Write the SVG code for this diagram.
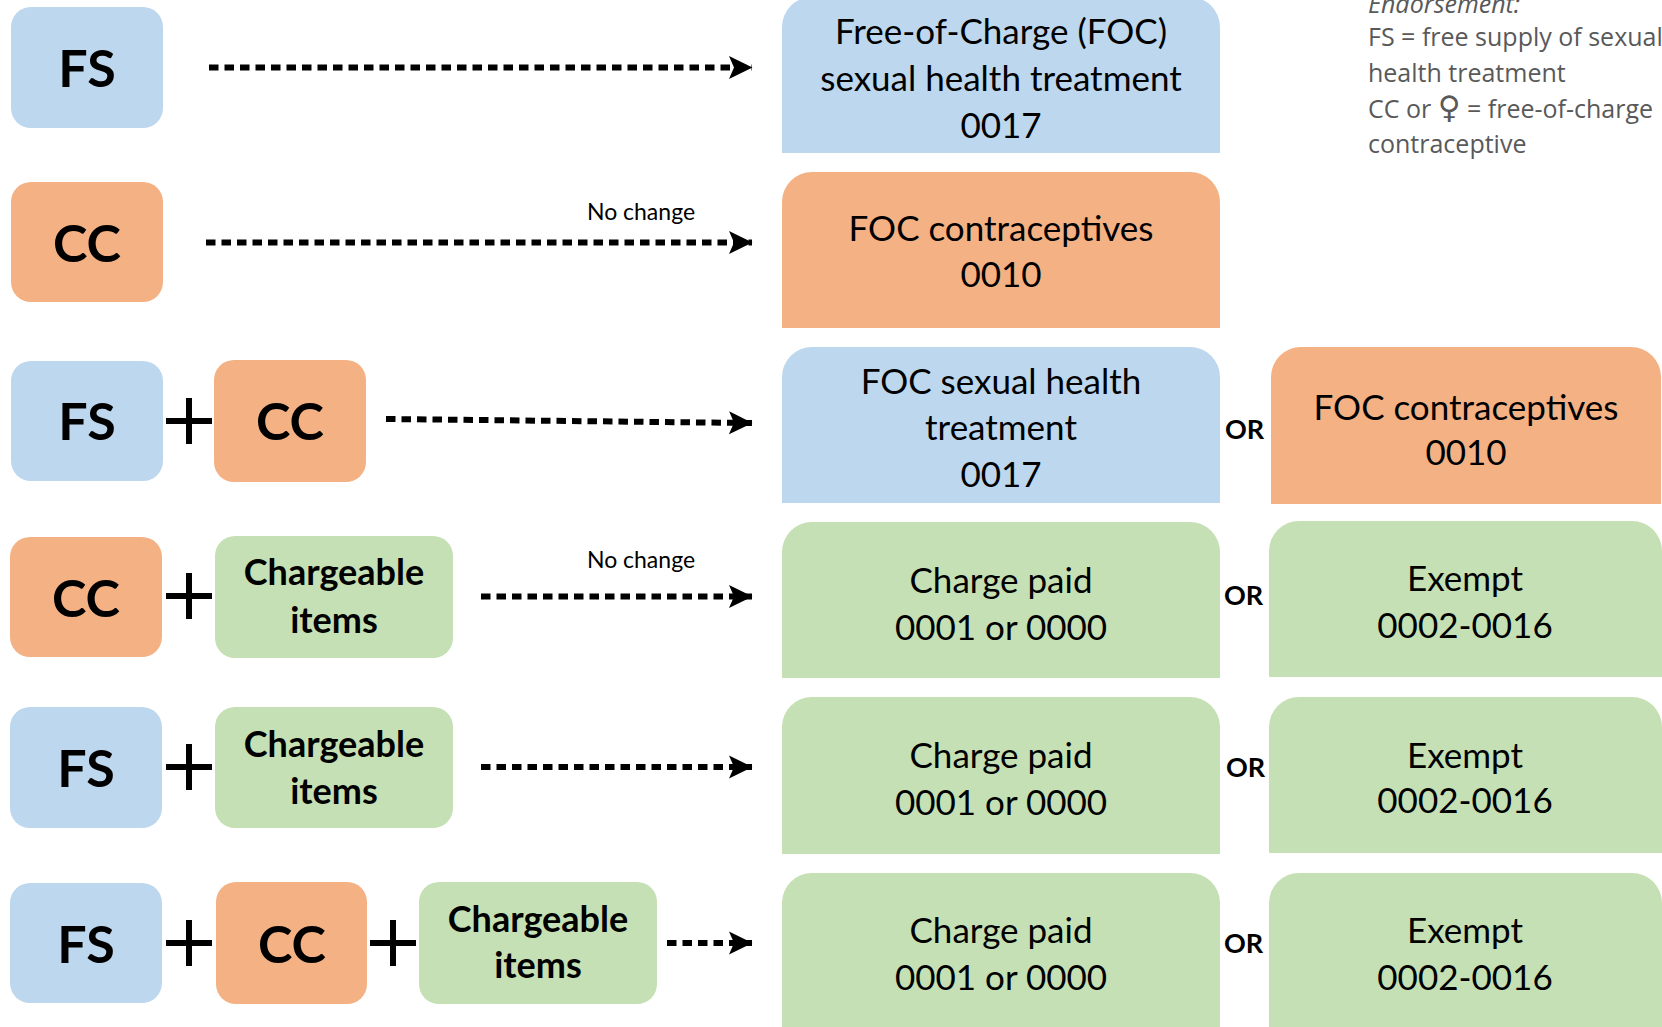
<svg xmlns="http://www.w3.org/2000/svg" width="1662" height="1027" viewBox="0 0 1662 1027">
<defs>
<style>
.blue{fill:#BDD7EE}
.orange{fill:#F4B183}
.green{fill:#C5E0B4}
.big{font-family:Lato,"Liberation Sans",sans-serif;font-weight:bold;font-size:52px;fill:#000;text-anchor:middle}
.chg{font-family:Lato,"Liberation Sans",sans-serif;font-weight:bold;font-size:36px;fill:#000;text-anchor:middle}
.res{font-family:Lato,"Liberation Sans",sans-serif;font-size:35px;fill:#000;text-anchor:middle}
.or{font-family:Lato,"Liberation Sans",sans-serif;font-weight:bold;font-size:27px;fill:#000}
.nc{font-family:Lato,"Liberation Sans",sans-serif;font-size:23px;fill:#000;text-anchor:middle}
.leg{font-family:"Open Sans","DejaVu Sans",sans-serif;font-size:25px;fill:#595959}
.plus{stroke:#000;stroke-width:6;fill:none}
.arrow{stroke:#000;stroke-width:6;stroke-dasharray:9.5 6;fill:none;marker-end:url(#ah)}
</style>
<marker id="ah" markerUnits="userSpaceOnUse" markerWidth="24" markerHeight="24" refX="23" refY="11.5" orient="auto" viewBox="0 0 24 23">
<path d="M0,0 L23.5,11.5 L0,23 L5,11.5 Z" fill="#000"/>
</marker>
</defs>

<g id="legend">
<text class="leg" x="1368" y="13" font-style="italic">Endorsement:</text>
<text class="leg" x="1368" y="46">FS = free supply of sexual</text>
<text class="leg" x="1368" y="82">health treatment</text>
<text class="leg" x="1368" y="118">CC or <tspan font-family="'DejaVu Sans',sans-serif" font-size="31">♀</tspan> = free-of-charge</text>
<text class="leg" x="1368" y="153">contraceptive</text>
</g>

<!-- Row 1 -->
<g id="fs1"><rect class="blue" x="11" y="7" width="152" height="121" rx="20"/><text class="big" x="87" y="87">FS</text></g>
<g id="res1"><path class="blue" d="M782,27 a30,30 0 0 1 30,-30 h378 a30,30 0 0 1 30,30 v126 h-438 z"/>
<text class="res" x="1001" y="44">Free-of-Charge (FOC)</text>
<text class="res" x="1001" y="91">sexual health treatment</text>
<text class="res" x="1001" y="138">0017</text></g>

<!-- Row 2 -->
<g id="cc2"><rect class="orange" x="11" y="182" width="152" height="120" rx="20"/><text class="big" x="87" y="262">CC</text></g>
<g id="res2"><path class="orange" d="M782,202 a30,30 0 0 1 30,-30 h378 a30,30 0 0 1 30,30 v126 h-438 z"/>
<text class="res" x="1001" y="241">FOC contraceptives</text>
<text class="res" x="1001" y="287">0010</text></g>
<text class="nc" x="641" y="220">No change</text>

<!-- Row 3 -->
<g id="fs3"><rect class="blue" x="11" y="361" width="152" height="120" rx="20"/><text class="big" x="87" y="440">FS</text></g>
<g id="cc3"><rect class="orange" x="214" y="360" width="152" height="122" rx="20"/><text class="big" x="290" y="440">CC</text></g>
<g id="res3a"><path class="blue" d="M782,377 a30,30 0 0 1 30,-30 h378 a30,30 0 0 1 30,30 v126 h-438 z"/>
<text class="res" x="1001" y="394">FOC sexual health</text>
<text class="res" x="1001" y="440">treatment</text>
<text class="res" x="1001" y="487">0017</text></g>
<text class="or" x="1225" y="439">OR</text>
<g id="res3b"><path class="orange" d="M1271,377 a30,30 0 0 1 30,-30 h330 a30,30 0 0 1 30,30 v127 h-390 z"/>
<text class="res" x="1466" y="420">FOC contraceptives</text>
<text class="res" x="1466" y="465">0010</text></g>

<!-- Row 4 -->
<g id="cc4"><rect class="orange" x="10" y="537" width="152" height="120" rx="20"/><text class="big" x="86" y="617">CC</text></g>
<g id="ch4"><rect class="green" x="215" y="536" width="238" height="122" rx="20"/>
<text class="chg" x="334" y="585">Chargeable</text><text class="chg" x="334" y="633">items</text></g>
<text class="nc" x="641" y="568">No change</text>
<g id="res4a"><path class="green" d="M782,552 a30,30 0 0 1 30,-30 h378 a30,30 0 0 1 30,30 v126 h-438 z"/>
<text class="res" x="1001" y="593">Charge paid</text>
<text class="res" x="1001" y="640">0001 or 0000</text></g>
<text class="or" x="1224" y="605">OR</text>
<g id="res4b"><path class="green" d="M1269,551 a30,30 0 0 1 30,-30 h333 a30,30 0 0 1 30,30 v126 h-393 z"/>
<text class="res" x="1465" y="591">Exempt</text>
<text class="res" x="1465" y="638">0002-0016</text></g>

<!-- Row 5 -->
<g id="fs5"><rect class="blue" x="10" y="707" width="152" height="121" rx="20"/><text class="big" x="86" y="787">FS</text></g>
<g id="ch5"><rect class="green" x="215" y="707" width="238" height="121" rx="20"/>
<text class="chg" x="334" y="757">Chargeable</text><text class="chg" x="334" y="804">items</text></g>
<g id="res5a"><path class="green" d="M782,727 a30,30 0 0 1 30,-30 h378 a30,30 0 0 1 30,30 v127 h-438 z"/>
<text class="res" x="1001" y="768">Charge paid</text>
<text class="res" x="1001" y="815">0001 or 0000</text></g>
<text class="or" x="1226" y="777">OR</text>
<g id="res5b"><path class="green" d="M1269,727 a30,30 0 0 1 30,-30 h333 a30,30 0 0 1 30,30 v126 h-393 z"/>
<text class="res" x="1465" y="768">Exempt</text>
<text class="res" x="1465" y="813">0002-0016</text></g>

<!-- Row 6 -->
<g id="fs6"><rect class="blue" x="10" y="883" width="152" height="120" rx="20"/><text class="big" x="86" y="963">FS</text></g>
<g id="cc6"><rect class="orange" x="216" y="882" width="151" height="122" rx="20"/><text class="big" x="292" y="963">CC</text></g>
<g id="ch6"><rect class="green" x="419" y="882" width="238" height="122" rx="20"/>
<text class="chg" x="538" y="932">Chargeable</text><text class="chg" x="538" y="978">items</text></g>
<g id="res6a"><path class="green" d="M782,903 a30,30 0 0 1 30,-30 h378 a30,30 0 0 1 30,30 v160 h-438 z"/>
<text class="res" x="1001" y="943">Charge paid</text>
<text class="res" x="1001" y="990">0001 or 0000</text></g>
<text class="or" x="1224" y="953">OR</text>
<g id="res6b"><path class="green" d="M1269,903 a30,30 0 0 1 30,-30 h333 a30,30 0 0 1 30,30 v160 h-393 z"/>
<text class="res" x="1465" y="943">Exempt</text>
<text class="res" x="1465" y="990">0002-0016</text></g>

<g id="plus-signs">
<path class="plus" d="M166,421 h46 M189,398 v46"/>
<path class="plus" d="M166,596 h46 M189,573 v46"/>
<path class="plus" d="M166,767 h46 M189,744 v46"/>
<path class="plus" d="M166,943 h46 M189,920 v46"/>
<path class="plus" d="M370,943 h46 M393,920 v46"/>
</g>

<g id="connectors">
<path class="arrow" d="M209,67.5 L752,67.5"/>
<path class="arrow" d="M206,242.5 L752,242.5"/>
<path class="arrow" d="M386,419 L752,423"/>
<path class="arrow" d="M481,596.5 L752,596.5"/>
<path class="arrow" d="M481,767 L752,767"/>
<path class="arrow" d="M667,943 L752,943"/>
</g>
</svg>
